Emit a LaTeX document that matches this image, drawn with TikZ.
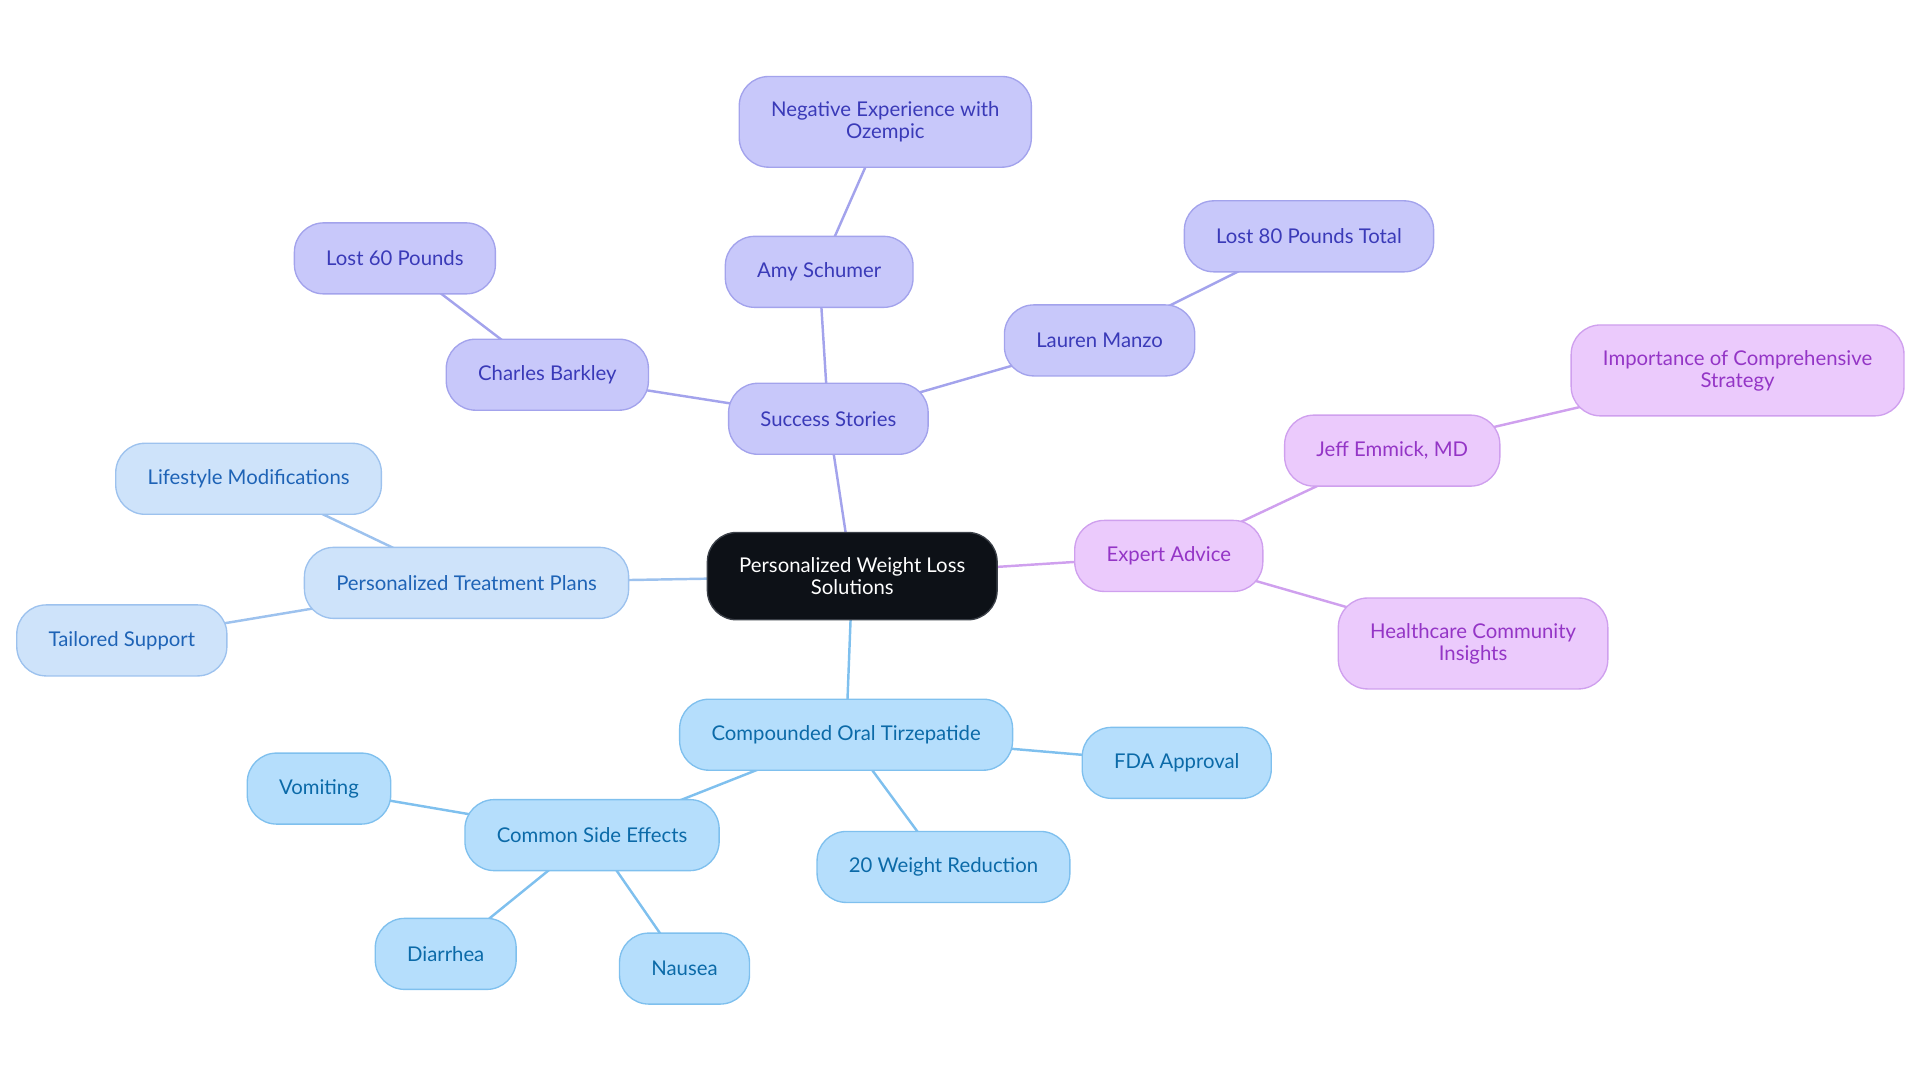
\documentclass[tikz,border=0pt]{standalone}
\usepackage{fontspec}
\setmainfont{Lato}
\usetikzlibrary{positioning}
\pgfdeclarelayer{background}
\pgfsetlayers{background,main}
\definecolor{storyfill}{HTML}{C8C8FA}
\definecolor{storydraw}{HTML}{A3A3EC}
\definecolor{storytext}{HTML}{3A3AB8}
\definecolor{expertfill}{HTML}{EBCAFC}
\definecolor{expertdraw}{HTML}{CFA0EE}
\definecolor{experttext}{HTML}{9435C6}
\definecolor{planfill}{HTML}{CEE3FA}
\definecolor{plandraw}{HTML}{9DC2EE}
\definecolor{plantext}{HTML}{1E63B6}
\definecolor{drugfill}{HTML}{B5DEFC}
\definecolor{drugdraw}{HTML}{7FC0EE}
\definecolor{drugtext}{HTML}{0B6AA8}
\definecolor{corefill}{HTML}{0D1117}
\definecolor{coredraw}{HTML}{3B4048}

\begin{document}
\begin{tikzpicture}[x=1pt, y=-1pt]
\tikzstyle{bubble}=[rectangle, rounded corners=24pt, align=center, line width=1.1pt,
  font=\fontsize{16.6}{18}\selectfont, inner xsep=26pt, inner ysep=20.5pt, minimum height=58pt]
\tikzstyle{core}=[bubble, fill=corefill, draw=coredraw, text=white]
\tikzstyle{story}=[bubble, fill=storyfill, draw=storydraw, text=storytext]
\tikzstyle{expert}=[bubble, fill=expertfill, draw=expertdraw, text=experttext]
\tikzstyle{plan}=[bubble, fill=planfill, draw=plandraw, text=plantext]
\tikzstyle{drug}=[bubble, fill=drugfill, draw=drugdraw, text=drugtext]
\tikzstyle{storylink}=[line width=2pt, draw=storydraw]
\tikzstyle{expertlink}=[line width=2pt, draw=expertdraw]
\tikzstyle{planlink}=[line width=2pt, draw=plandraw]
\tikzstyle{druglink}=[line width=2pt, draw=drugdraw]
    \useasboundingbox (0,0) rectangle (1568,884.4);
    % centre
    \node[core] (root) at (696,470.5) {Personalized Weight Loss\\Solutions};
    % success stories
    \node[story] (ss)  at (676.5,342) {Success Stories};
    \node[story] (cb)  at (447,306)   {Charles Barkley};
    \node[story] (l60) at (322.5,211) {Lost 60 Pounds};
    \node[story] (amy) at (669,222)   {Amy Schumer};
    \node[story] (neg) at (723,99.5)  {Negative Experience with\\Ozempic};
    \node[story] (lm)  at (898,278)   {Lauren Manzo};
    \node[story] (l80) at (1069,193)  {Lost 80 Pounds Total};
    % treatment plans
    \node[plan] (ptp)  at (381,476)   {Personalized Treatment Plans};
    \node[plan] (lmod) at (203,391)   {Lifestyle Modifications};
    \node[plan] (ts)   at (99.5,523)  {Tailored Support};
    % expert advice
    \node[expert] (ea)  at (954.5,454)  {Expert Advice};
    \node[expert] (je)  at (1137,368)   {Jeff Emmick, MD};
    \node[expert] (imp) at (1419,302.5) {Importance of Comprehensive\\Strategy};
    \node[expert] (hci) at (1203,525.5) {Healthcare Community\\Insights};
    % tirzepatide
    \node[drug] (cot) at (691,600)   {Compounded Oral Tirzepatide};
    \node[drug] (fda) at (961,623)   {FDA Approval};
    \node[drug] (wr)  at (770.5,708) {20 Weight Reduction};
    \node[drug] (cse) at (483.5,682) {Common Side Effects};
    \node[drug] (vom) at (260.5,644) {Vomiting};
    \node[drug] (dia) at (364,779)   {Diarrhea};
    \node[drug] (nau) at (559,791)   {Nausea};
    \begin{pgfonlayer}{background}
    \path (root.center) edge [storylink] (ss.center)
          (ss.center) edge [storylink] (cb.center)
          (cb.center) edge [storylink] (l60.center)
          (ss.center) edge [storylink] (amy.center)
          (amy.center) edge [storylink] (neg.center)
          (ss.center) edge [storylink] (lm.center)
          (lm.center) edge [storylink] (l80.center);
    \path (root.center) edge [planlink] (ptp.center)
          (ptp.center) edge [planlink] (lmod.center)
          (ptp.center) edge [planlink] (ts.center);
    \path (root.center) edge [expertlink] (ea.center)
          (ea.center) edge [expertlink] (je.center)
          (je.center) edge [expertlink] (imp.center)
          (ea.center) edge [expertlink] (hci.center);
    \path (root.center) edge [druglink] (cot.center)
          (cot.center) edge [druglink] (fda.center)
          (cot.center) edge [druglink] (wr.center)
          (cot.center) edge [druglink] (cse.center)
          (cse.center) edge [druglink] (vom.center)
          (cse.center) edge [druglink] (dia.center)
          (cse.center) edge [druglink] (nau.center);
    \end{pgfonlayer}
\end{tikzpicture}
\end{document}
